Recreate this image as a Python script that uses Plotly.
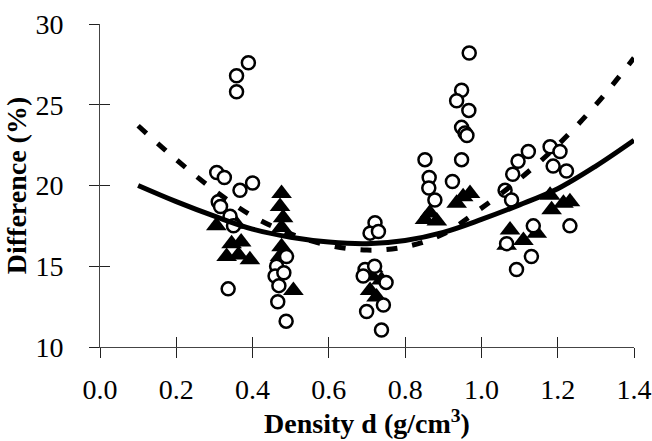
import plotly.graph_objects as go

# Open circles
circ_x = [0.306, 0.326, 0.367, 0.400, 0.310, 0.316, 0.341, 0.350, 0.336, 0.389, 0.358, 0.358,
          0.463, 0.459, 0.482, 0.469, 0.466, 0.488, 0.489,
          0.721, 0.708, 0.730, 0.695, 0.690, 0.720, 0.750, 0.699, 0.743, 0.738,
          0.968, 0.948, 0.935, 0.967, 0.948, 0.957, 0.962, 0.948, 0.852, 0.863, 0.862, 0.924, 0.878,
          1.123, 1.180, 1.206, 1.096, 1.188, 1.223, 1.082, 1.062, 1.079, 1.232, 1.136, 1.131, 1.092, 1.066]
circ_y = [20.8, 20.5, 19.7, 20.15, 19.0, 18.7, 18.1, 17.5, 13.6, 27.6, 26.8, 25.8,
          15.0, 14.4, 14.6, 13.8, 12.8, 11.6, 15.6,
          17.7, 17.05, 17.15, 14.8, 14.4, 15.0, 14.0, 12.2, 12.6, 11.05,
          28.2, 25.9, 25.25, 24.65, 23.6, 23.25, 23.1, 21.6, 21.6, 20.5, 19.85, 20.25, 19.1,
          22.1, 22.4, 22.1, 21.5, 21.2, 20.9, 20.7, 19.7, 19.1, 17.5, 17.5, 15.6, 14.8, 16.4]

# Filled triangles
tri_x = [0.305, 0.358, 0.345, 0.332, 0.363, 0.393, 0.370,
         0.476, 0.472, 0.480, 0.476, 0.476, 0.472, 0.507,
         0.716, 0.738, 0.708, 0.725, 0.712,
         0.852, 0.883, 0.865, 0.952, 0.970, 0.935,
         1.075, 1.110, 1.145, 1.066, 1.180, 1.232, 1.184, 1.215]
tri_y = [17.5, 17.6, 16.4, 15.6, 15.7, 15.4, 16.5,
         19.5, 18.7, 18.0, 17.4, 16.2, 15.6, 13.5,
         14.9, 14.15, 13.5, 13.1, 14.4,
         17.9, 17.8, 18.3, 19.3, 19.5, 18.9,
         17.25, 16.6, 17.05, 16.3, 19.4, 19.0, 18.5, 18.9]

# Fitted curves
fit_x = [0.1, 0.2, 0.3, 0.4, 0.5, 0.6, 0.7, 0.8, 0.9, 1.0, 1.1, 1.2, 1.3, 1.4]
solid_y = [20.0, 19.0, 18.1, 17.3, 16.8, 16.5, 16.4, 16.6, 17.1, 17.9, 18.8, 19.8, 21.2, 22.8]
dash_y = [23.7, 21.6, 19.7, 18.1, 17.0, 16.3, 16.0, 16.2, 17.0, 18.6, 20.4, 22.5, 25.0, 27.9]

x_ticks = [0.0, 0.2, 0.4, 0.6, 0.8, 1.0, 1.2, 1.4]
x_tick_text = ["0.0", "0.2", "0.4", "0.6", "0.8", "1.0", "1.2", "1.4"]
y_ticks = [10, 15, 20, 25, 30]

FONT = "Liberation Serif, Times New Roman, serif"

fig = go.Figure()
fig.add_trace(go.Scatter(x=tri_x, y=tri_y, mode="markers",
                         marker=dict(symbol="triangle-up", size=18, color="black",
                                     line=dict(width=0)),
                         showlegend=False))
fig.add_trace(go.Scatter(x=circ_x, y=circ_y, mode="markers",
                         marker=dict(symbol="circle", size=13, color="white",
                                     line=dict(color="black", width=2.5)),
                         showlegend=False))
# curves on the overlay axes (same ranges) so the inner tick halves are drawn
fig.add_trace(go.Scatter(x=fit_x, y=solid_y, mode="lines", xaxis="x2", yaxis="y2",
                         line=dict(color="black", width=5, shape="spline"),
                         showlegend=False))
fig.add_trace(go.Scatter(x=fit_x, y=dash_y, mode="lines", xaxis="x2", yaxis="y2",
                         line=dict(color="black", width=5, shape="spline", dash="11px,15px"),
                         showlegend=False))

axis_common = dict(showgrid=False, zeroline=False, automargin=False)
fig.update_layout(
    width=652, height=441,
    margin=dict(l=100, r=18, t=24, b=94),
    paper_bgcolor="white", plot_bgcolor="white",
    font=dict(family=FONT, color="black"),
    xaxis=dict(range=[0, 1.4], tickvals=x_ticks, ticktext=x_tick_text,
               ticks="outside", ticklen=10, tickwidth=1, tickcolor="#222",
               showline=True, linecolor="#444", linewidth=1,
               tickfont=dict(size=28, family=FONT), ticklabelstandoff=7,
               ticklabeloverflow="allow",
               title=dict(text="<b>Density d (g/cm<sup>3</sup>)</b>",
                          font=dict(size=28, family=FONT), standoff=4),
               **axis_common),
    yaxis=dict(range=[10, 30], tickvals=y_ticks,
               ticks="outside", ticklen=10, tickwidth=1, tickcolor="#222",
               showline=True, linecolor="#444", linewidth=1,
               tickfont=dict(size=28, family=FONT), ticklabelstandoff=20,
               ticklabeloverflow="allow",
               title=dict(text="<b>Difference (%)</b>",
                          font=dict(size=28, family=FONT), standoff=0),
               **axis_common),
    xaxis2=dict(range=[0, 1.4], tickvals=x_ticks, overlaying="x", anchor="y2", side="bottom",
                ticks="inside", ticklen=10, tickwidth=1, tickcolor="#222",
                showticklabels=False, showline=False, **axis_common),
    yaxis2=dict(range=[10, 30], tickvals=y_ticks, overlaying="y", anchor="x2", side="left",
                ticks="inside", ticklen=10, tickwidth=1, tickcolor="#222",
                showticklabels=False, showline=False, **axis_common),
)

# remove the default 8px page margin so the 652x441 figure fills the window exactly
fig.write_html("out.html",
               config={"displayModeBar": False},
               post_script="document.body.style.margin='0';document.body.style.overflow='hidden';")
